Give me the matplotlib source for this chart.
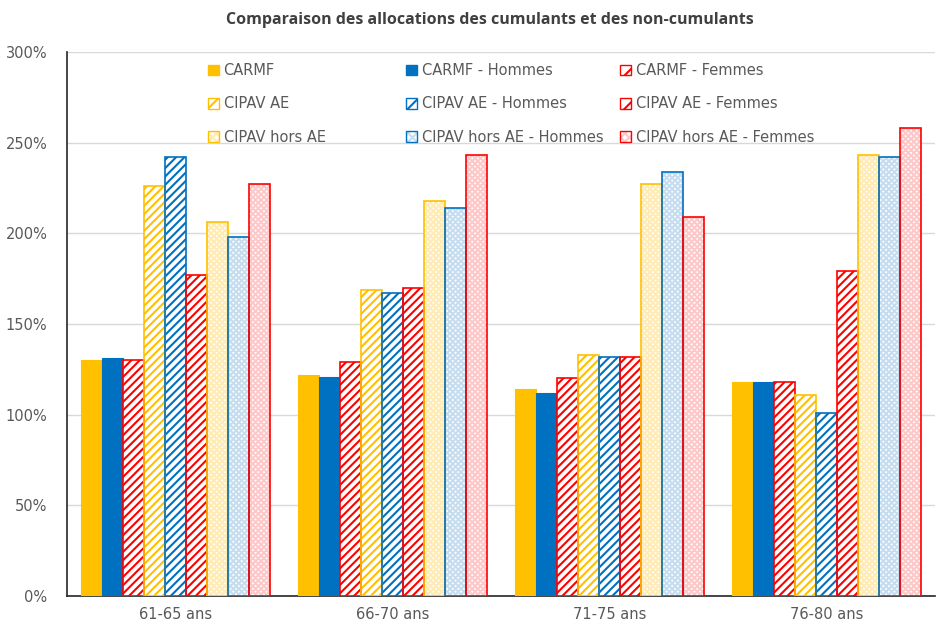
import matplotlib.pyplot as plt
import numpy as np
from matplotlib.patches import Patch
from matplotlib.ticker import FuncFormatter

plt.rcParams['font.family'] = ['DejaVu Sans']
plt.rcParams['hatch.linewidth'] = 1.5

categories = ["61-65 ans", "66-70 ans", "71-75 ans", "76-80 ans"]
series_names = ["CARMF", "CARMF - Hommes", "CARMF - Femmes",
                "CIPAV AE", "CIPAV AE - Hommes", "CIPAV AE - Femmes",
                "CIPAV hors AE", "CIPAV hors AE - Hommes", "CIPAV hors AE - Femmes"]
carmf = [130, 122, 114, 118]
carmf_h = [131, 121, 112, 118]
carmf_f = [130, 129, 120, 118]
cipav_ae = [226, 169, 133, 111]
cipav_ae_h = [242, 167, 132, 101]
cipav_ae_f = [177, 170, 132, 179]
cipav_hors = [206, 218, 227, 243]
cipav_hors_h = [198, 214, 234, 242]
cipav_hors_f = [227, 243, 209, 258]
values = [carmf, carmf_h, carmf_f, cipav_ae, cipav_ae_h, cipav_ae_f,
          cipav_hors, cipav_hors_h, cipav_hors_f]

yellow, blue, red = "#FFC000", "#0070C0", "#FF0000"
light = {yellow: "#FFEBB3", blue: "#C6DDF0", red: "#FFC8C8"}
base_colors = [yellow, blue, red] * 3
kinds = ["solid", "solid", "stripe"] + ["stripe"] * 3 + ["dots"] * 3

fig = plt.figure(figsize=(9.37, 6.25), dpi=100)
ax = fig.add_axes([67/937, 1 - 596/625, 868/937, (596 - 52)/625])

x = np.arange(len(categories))
w = 0.87 / 9
handles = []
for i, (name, vals, col, kind) in enumerate(zip(series_names, values, base_colors, kinds)):
    pos = x - 0.435 + w * (i + 0.5)
    if kind == "solid":
        ax.bar(pos, vals, w, color=col, edgecolor=col, lw=0.8, zorder=3)
        handles.append(Patch(facecolor=col, edgecolor=col))
    elif kind == "stripe":
        ax.bar(pos, vals, w, facecolor="white", edgecolor=col, hatch="////", lw=0, zorder=3)
        ax.bar(pos, vals, w, fill=False, edgecolor=col, lw=1.2, zorder=4)
        handles.append((Patch(facecolor="white", edgecolor=col, hatch="//", lw=0),
                        Patch(fill=False, edgecolor=col, lw=1)))
    else:
        ax.bar(pos, vals, w, facecolor="#FFFFFF", edgecolor=light[col], hatch="xxxxxx", lw=0, zorder=3)
        ax.bar(pos, vals, w, fill=False, edgecolor=col, lw=1.2, zorder=4)
        handles.append((Patch(facecolor="white", edgecolor=light[col], hatch="xxxx", lw=0),
                        Patch(fill=False, edgecolor=col, lw=1)))

ax.set_xlim(-0.5, len(categories) - 0.5)
ax.set_ylim(0, 300)
ax.set_yticks(np.arange(0, 301, 50))
ax.yaxis.set_major_formatter(FuncFormatter(lambda v, p: f"{int(v)}%"))
ax.set_xticks(x)
ax.set_xticklabels(categories)
ax.tick_params(axis="both", length=0, labelsize=10.5, colors="#595959", pad=8)
ax.tick_params(axis="y", pad=14)
ax.grid(axis="y", color="#D9D9D9", lw=1, zorder=0)
ax.set_axisbelow(True)
for s in ["top", "right"]:
    ax.spines[s].set_visible(False)
ax.spines["left"].set_color("#262626")
ax.spines["bottom"].set_color("#262626")
ax.spines["left"].set_linewidth(1.2)
ax.spines["bottom"].set_linewidth(1.2)

fig.text(490/937, 1 - 20/625, "Comparaison des allocations des cumulants et des non-cumulants",
         ha="center", va="center", fontsize=11.5, fontweight="bold", color="#404040",
         family="Open Sans")

col_x = [198, 396, 610]
for c in range(3):
    hs = [handles[c], handles[c + 3], handles[c + 6]]
    ls = [series_names[c], series_names[c + 3], series_names[c + 6]]
    leg = ax.legend(hs, ls, loc="upper left",
                    bbox_to_anchor=(col_x[c] / 937, 1 - 53 / 625),
                    bbox_transform=fig.transFigure, frameon=False,
                    fontsize=10.5, labelcolor="#595959", handlelength=0.75,
                    handleheight=0.75, handletextpad=0.3, labelspacing=1.25,
                    borderpad=0.2)
    if c < 2:
        ax.add_artist(leg)

fig.savefig("out.png", dpi=100)
